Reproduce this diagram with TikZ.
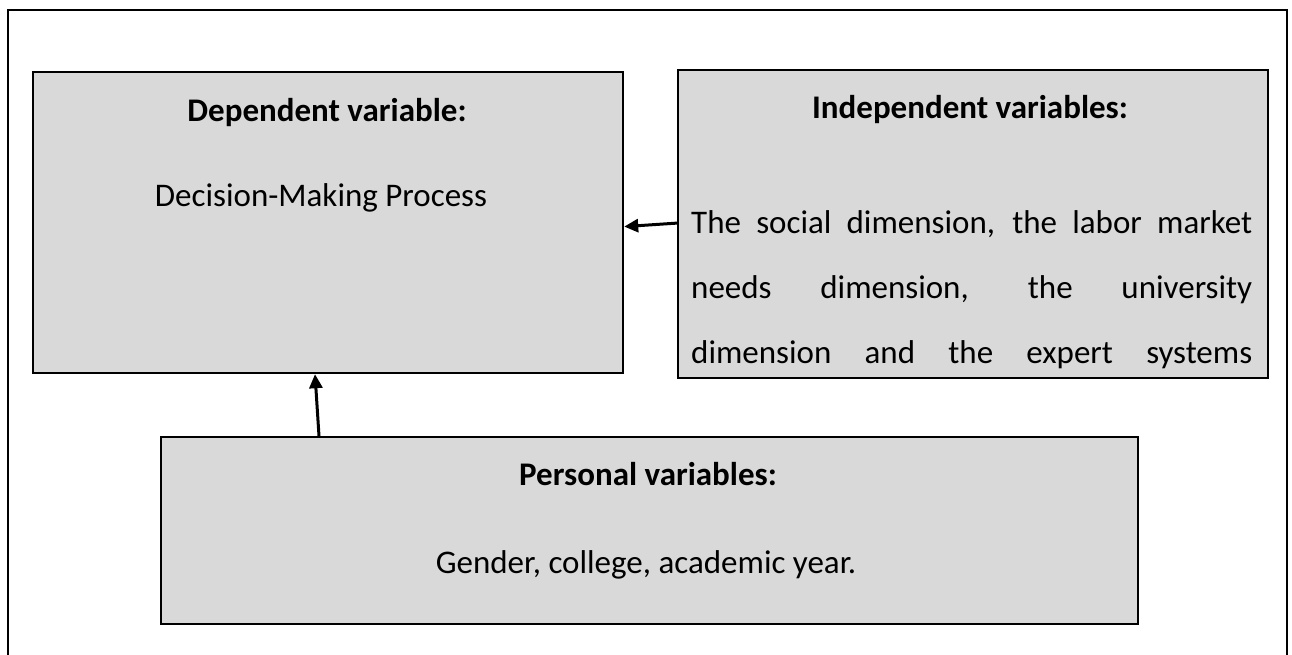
\documentclass[tikz,border=0pt]{standalone}
\usepackage{fontspec}
\setmainfont{Carlito}
\usetikzlibrary{arrows.meta}
\begin{document}
\begin{tikzpicture}[x=1pt,y=-1pt,
  box/.style={draw=black,line width=2.2pt,fill=boxgray,inner sep=0pt,anchor=north west},
  txt/.style={inner sep=0pt,font=\fontsize{33}{40}\selectfont},
  hd/.style={txt,font=\fontsize{33}{40}\selectfont\bfseries},
  arr/.style={line width=3pt,-{Triangle[length=14pt,width=13pt]}}]
\definecolor{boxgray}{HTML}{D9D9D9}
\useasboundingbox (0,0) rectangle (1292,655);
\draw[line width=2pt] (8,660) -- (8,10) -- (1287,10) -- (1287,660);
\node[box,minimum width=590pt,minimum height=301pt] (boxA) at (32,71) {};
\node[box,minimum width=590pt,minimum height=308pt] (boxB) at (677,69) {};
\node[box,minimum width=977pt,minimum height=187pt] (boxC) at (160,436) {};
\node[hd] (hA) at (327,113) {Dependent variable:};
\node[txt] (tA) at (321,198) {Decision-Making Process};
\node[hd] (hB) at (970,110) {Independent variables:};
\node[txt,anchor=west] (l1) at (691,224) {\makebox[561pt][s]{The social dimension, the labor market}};
\node[txt,anchor=west] (l2) at (691,290) {\makebox[561pt][s]{needs dimension, the university}};
\node[txt,anchor=west] (l3) at (691,355) {\makebox[561pt][s]{dimension and the expert systems}};
\node[hd] (hC) at (648,474) {Personal variables:};
\node[txt] (tC) at (646,565) {Gender, college, academic year.};
\draw[arr] ([yshift=1pt]boxB.west) -- ([yshift=-4pt]boxA.east);
\draw[arr] ([xshift=159pt]boxC.north west) -- ([xshift=283pt]boxA.south west);
\end{tikzpicture}
\end{document}
